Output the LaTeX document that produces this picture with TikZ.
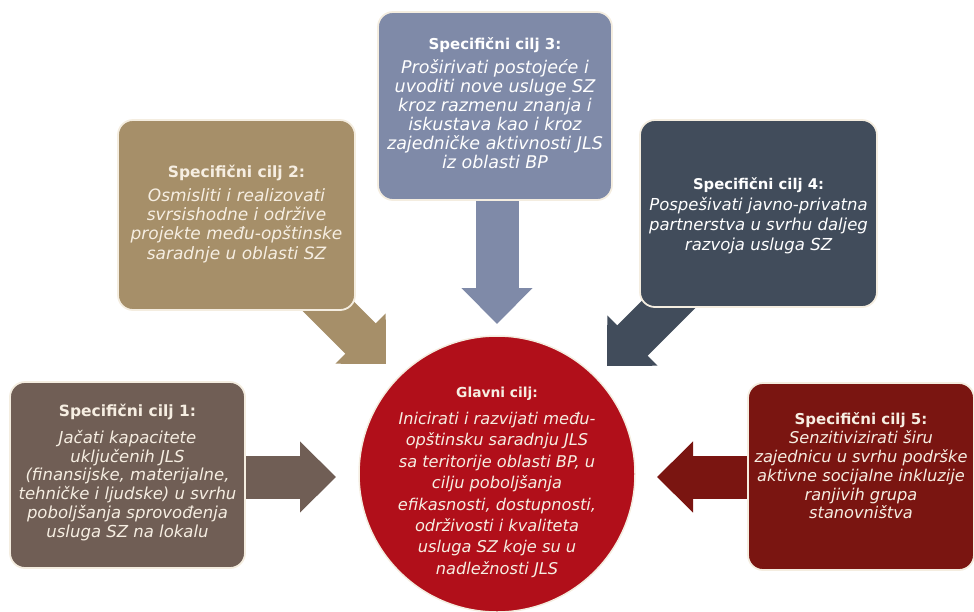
\documentclass[tikz,border=0pt]{standalone}
\usepackage{fontspec}
\setmainfont{DejaVu Sans}
\usetikzlibrary{arrows.meta}
\definecolor{cA}{HTML}{705E55}
\definecolor{cB}{HTML}{A68F69}
\definecolor{cC}{HTML}{7F8AA8}
\definecolor{cD}{HTML}{414C5B}
\definecolor{cE}{HTML}{7A1511}
\definecolor{cRed}{HTML}{B10F1A}
\definecolor{edge}{HTML}{F4EDE0}
\definecolor{txt}{HTML}{F6EEE2}
\newcommand\ttl[2]{{\upshape\bfseries\fontsize{#1}{18}\selectfont #2}}
\begin{document}
\begin{tikzpicture}[x=1pt,y=-1pt,
  goalbox/.style={draw=edge, line width=1.8pt, rounded corners=15pt, inner sep=0pt},
  boxtext/.style={align=center, text=txt, inner sep=0pt},
  blockarrow/.style={line width=43pt, -{Triangle[width=69pt,length=36pt]}},
]
\useasboundingbox (0,0) rectangle (974,611);
% connector end points
\coordinate (a1s) at (246,477); \coordinate (a1e) at (336,477);
\coordinate (a2s) at (310,288); \coordinate (a2e) at (386,364);
\coordinate (a3s) at (497,195); \coordinate (a3e) at (497,324);
\coordinate (a4s) at (684,289); \coordinate (a4e) at (607,366);
\coordinate (a5s) at (752,477); \coordinate (a5e) at (657,477);
% arrows (behind boxes)
\draw[blockarrow, cA] (a1s) -- (a1e);
\draw[blockarrow, cB] (a2s) -- (a2e);
\draw[blockarrow, cC] (a3s) -- (a3e);
\draw[blockarrow, cD] (a4s) -- (a4e);
\draw[blockarrow, cE] (a5s) -- (a5e);
% boxes
\node[goalbox, fill=cA, minimum width=235pt, minimum height=186pt] (b1) at (127.5,475) {};
\node[goalbox, fill=cB, minimum width=237pt, minimum height=190pt] (b2) at (236.5,215) {};
\node[goalbox, fill=cC, minimum width=234pt, minimum height=188pt] (b3) at (495,106) {};
\node[goalbox, fill=cD, minimum width=237pt, minimum height=187pt] (b4) at (758.5,213.5) {};
\node[goalbox, fill=cE, minimum width=226pt, minimum height=187pt] (b5) at (861,476.5) {};
\node[circle, fill=cRed, draw=edge, line width=1.5pt, minimum size=276pt, inner sep=0pt] (goal) at (497,474) {};
% texts
\node[boxtext, font=\fontsize{16.5}{18.8}\selectfont\itshape] (t1) at ([yshift=2.5pt]b1.center) {\ttl{15.5}{Specifični cilj 1:}\\[8pt]
Jačati kapacitete\\ uključenih JLS\\ (finansijske, materijalne,\\ tehničke i ljudske) u svrhu\\ poboljšanja sprovođenja\\ usluga SZ na lokalu};
\node[boxtext, font=\fontsize{17}{19.3}\selectfont\itshape] (t2) at ([yshift=1pt]b2.center) {\ttl{15.5}{Specifični cilj 2:}\\[4pt]
Osmisliti i realizovati\\ svrsishodne i održive\\ projekte među-opštinske\\ saradnje u oblasti SZ};
\node[boxtext, text=white, font=\fontsize{17.5}{19}\selectfont\itshape] (t3) at ([yshift=2.5pt]b3.center) {\ttl{15}{Specifični cilj 3:}\\[5pt]
Proširivati postojeće i\\ uvoditi nove usluge SZ\\ kroz razmenu znanja i\\ iskustava kao i kroz\\ zajedničke aktivnosti JLS\\ iz oblasti BP};
\node[boxtext, text=white, font=\fontsize{16.5}{20}\selectfont\itshape] (t4) at ([yshift=-2.5pt]b4.center) {\ttl{14.8}{Specifični cilj 4:}\\[1pt]
Pospešivati javno-privatna\\ partnerstva u svrhu daljeg\\ razvoja usluga SZ};
\node[boxtext, font=\fontsize{16.2}{18.8}\selectfont\itshape] (t5) at ([yshift=10.5pt]b5.center) {\ttl{15}{Specifični cilj 5:}\\
Senzitivizirati širu\\ zajednicu u svrhu podrške\\ aktivne socijalne inkluzije\\ ranjivih grupa\\ stanovništva};
\node[boxtext, font=\fontsize{16.2}{21.4}\selectfont\itshape] (tg) at ([yshift=-8pt]goal.center) {\ttl{13.8}{Glavni cilj:}\\[6pt]
Inicirati i razvijati među-\\ opštinsku saradnju JLS\\ sa teritorije oblasti BP, u\\ cilju poboljšanja\\ efikasnosti, dostupnosti,\\ održivosti i kvaliteta\\ usluga SZ koje su u\\ nadležnosti JLS};
\end{tikzpicture}
\end{document}
